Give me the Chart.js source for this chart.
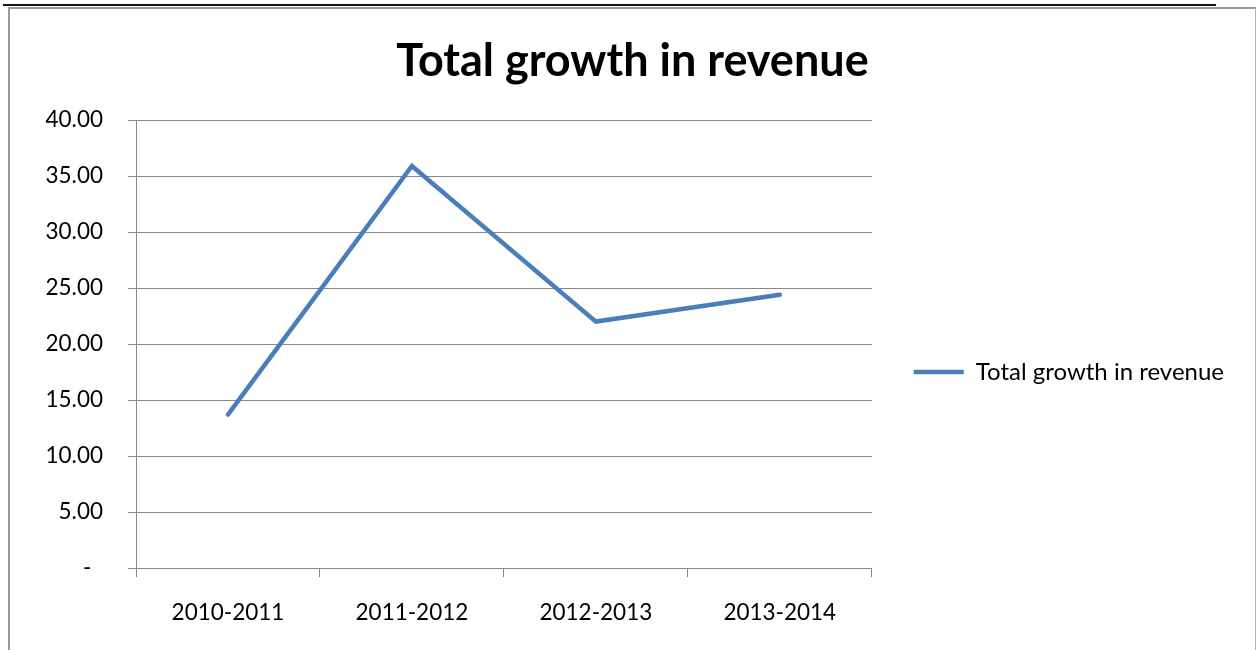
<!DOCTYPE html>
<html>
<head>
<meta charset="utf-8">
<title>Total growth in revenue</title>
<script src="https://cdn.jsdelivr.net/npm/chart.js@4/dist/chart.umd.min.js"></script>
<style>
    html, body {
        margin: 0;
        padding: 0;
        background: #ffffff;
        overflow: hidden;
    }
    #rule {
        position: absolute;
        left: 3px;
        top: 4px;
        width: 1213px;
        height: 2px;
        background: #151515;
    }
    #frame {
        position: absolute;
        left: 8px;
        top: 7px;
        border-top: 2px solid #9a9a9a;
        border-left: 2px solid #9a9a9a;
        border-right: 1px solid #b4b4b4;
        background: #ffffff;
    }
    #growthChart {
        display: block;
    }
</style>
</head>
<body>
<div id="rule"></div>
<div id="frame">
    <canvas id="growthChart" width="1245" height="726"></canvas>
</div>
<script>
const chartTitle = 'Total growth in revenue';
const seriesLabel = 'Total growth in revenue';
const categories = ['2010-2011', '2011-2012', '2012-2013', '2013-2014'];
const revenueGrowth = [13.7, 35.9, 22.0, 24.4];
const yMin = 0;
const yMax = 40;
const yStep = 5;

const gridGray = '#878787';
const lineBlue = '#4a7ebb';
const labelFont = { family: 'Lato', size: 22.5 };

// Function to initialize a chart and catch any errors
function initializeChart(chartId, config) {
    try {
        const ctx = document.getElementById(chartId).getContext('2d');
        return new Chart(ctx, config);
    } catch (error) {
        console.error(`Failed to initialize chart: ${chartId}`, error);
    }
}

// Zero is shown as a dash, the rest with two decimals
function formatTick(value) {
    return value === 0 ? '-  ' : value.toFixed(2);
}

const growthChart = initializeChart('growthChart', {
    type: 'line',
    data: {
        labels: categories,
        datasets: [{
            label: seriesLabel,
            data: revenueGrowth,
            borderColor: lineBlue,
            backgroundColor: lineBlue,
            borderWidth: 4.5,
            borderCapStyle: 'round',
            borderJoinStyle: 'miter',
            pointRadius: 0,
            tension: 0,
            fill: false
        }]
    },
    options: {
        responsive: false,
        animation: false,
        layout: {
            padding: { left: 21, right: 21 }
        },
        plugins: {
            title: {
                display: true,
                text: chartTitle,
                color: '#000000',
                font: { family: 'Lato', size: 45, weight: 'bold' },
                padding: { top: 25, bottom: 32 }
            },
            legend: {
                position: 'right',
                maxWidth: 420,
                labels: {
                    usePointStyle: true,
                    pointStyle: 'line',
                    pointStyleWidth: 50,
                    padding: 42,
                    color: '#000000',
                    font: { family: 'Lato', size: 24 }
                }
            },
            tooltip: { enabled: false }
        },
        scales: {
            x: {
                offset: true,
                grid: {
                    offset: true,
                    drawOnChartArea: false,
                    tickLength: 9,
                    color: gridGray
                },
                border: { color: gridGray },
                ticks: {
                    padding: 22,
                    color: '#000000',
                    font: labelFont
                },
                afterFit: function(scale) {
                    scale.height = 726 - 559;
                }
            },
            y: {
                min: yMin,
                max: yMax,
                ticks: {
                    stepSize: yStep,
                    padding: 25,
                    color: '#000000',
                    font: labelFont,
                    callback: formatTick
                },
                grid: {
                    color: gridGray,
                    tickLength: 8
                },
                border: { color: gridGray },
                afterFit: function(scale) {
                    scale.width = 105;
                }
            }
        }
    }
});
</script>
</body>
</html>
